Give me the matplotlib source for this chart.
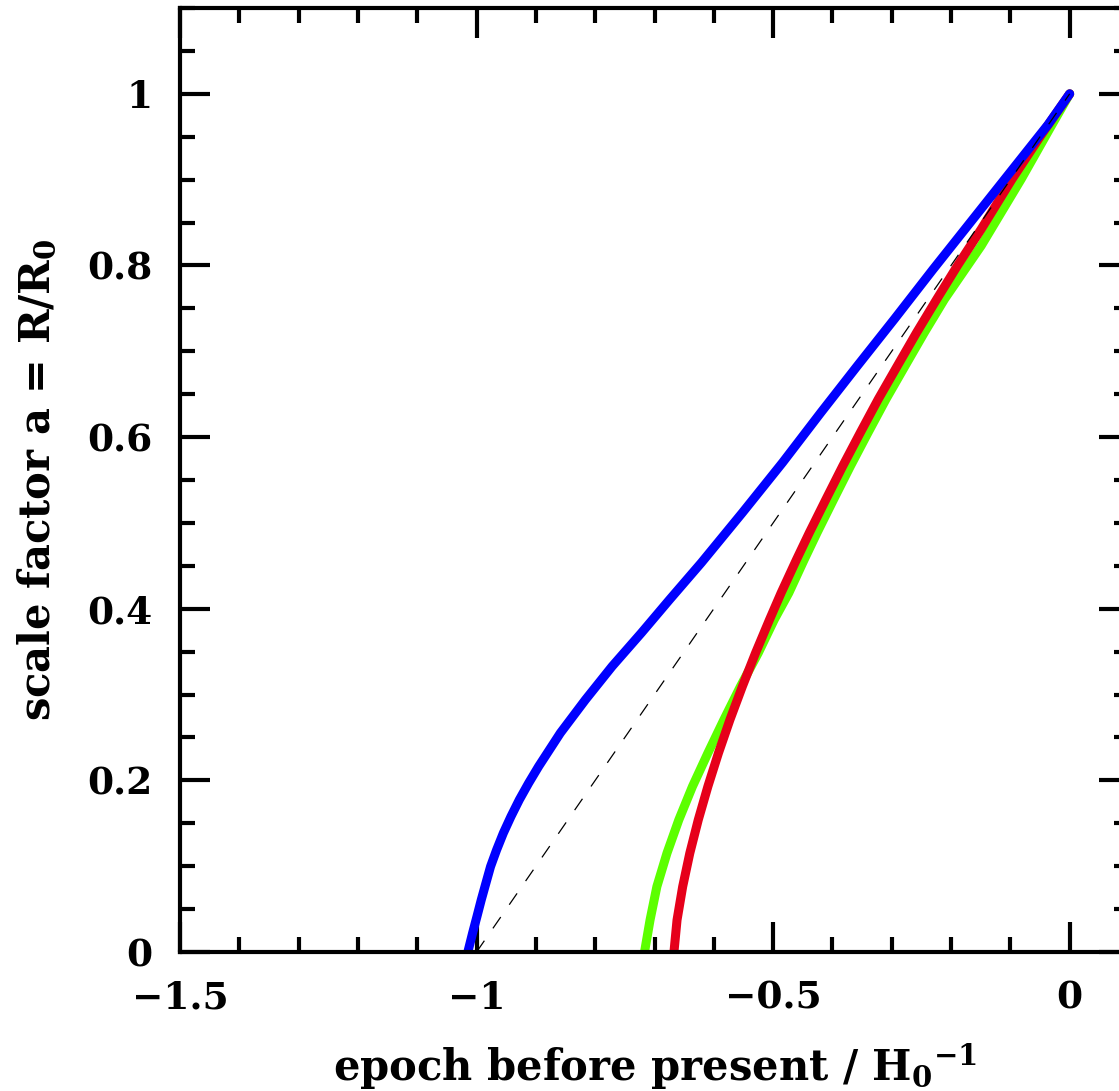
import matplotlib
matplotlib.use('Agg')
import matplotlib.pyplot as plt
from matplotlib.ticker import MultipleLocator, FixedLocator, FixedFormatter

# Values (epoch t in units of 1/H0, scale factor a)
t_blue = [-1.0147, -1.0068, -0.9994, -0.9921, -0.9843, -0.9764, -0.9662, -0.9549,
          -0.9420, -0.9279, -0.9122, -0.8953, -0.8587, -0.8164, -0.7714, -0.7220,
          -0.6745, -0.6210, -0.5518, -0.4842, -0.4195, -0.3580, -0.2950, -0.2309,
          -0.1182, -0.0366, 0.0]
a_blue = [0.0, 0.0218, 0.0412, 0.0607, 0.0801, 0.0996, 0.1190, 0.1385,
          0.1579, 0.1774, 0.1968, 0.2163, 0.2552, 0.2940, 0.3329, 0.3719,
          0.4107, 0.4536, 0.5119, 0.5702, 0.6286, 0.6830, 0.7380, 0.7950,
          0.8930, 0.9640, 1.0]

t_red = [-0.6672, -0.6620, -0.6525, -0.6405, -0.6262, -0.6100, -0.5922, -0.5728,
         -0.5518, -0.5296, -0.5060, -0.4865, -0.4605, -0.4390, -0.4110, -0.3826,
         -0.3530, -0.3228, -0.2905, -0.2580, -0.2240, -0.1890, -0.1490, -0.0970,
         -0.0490, 0.0]
a_red = [0.0, 0.0373, 0.0762, 0.1151, 0.1540, 0.1929, 0.2318, 0.2707,
         0.3096, 0.3485, 0.3874, 0.4185, 0.4574, 0.4885, 0.5274, 0.5663,
         0.6052, 0.6441, 0.6830, 0.7219, 0.7608, 0.8000, 0.8425, 0.9008,
         0.9510, 1.0]

t_green = [-0.7168, -0.7075, -0.6960, -0.6790, -0.6590, -0.6360, -0.6100, -0.5830,
           -0.5550, -0.5250, -0.4980, -0.4735, -0.4475, -0.4260, -0.3980, -0.3696,
           -0.3400, -0.3098, -0.2775, -0.2450, -0.2110, -0.1492, -0.0816, -0.0338, 0.0]
a_green = [0.0, 0.0373, 0.0762, 0.1151, 0.1540, 0.1929, 0.2318, 0.2707,
           0.3096, 0.3485, 0.3874, 0.4185, 0.4574, 0.4885, 0.5274, 0.5663,
           0.6052, 0.6441, 0.6830, 0.7219, 0.7608, 0.8230, 0.9008, 0.9592, 1.0]

# empty universe, a = 1 + t
t_empty = [-1.0, 0.0]
a_empty = [0.0, 1.0]

xticks = [-1.5, -1.0, -0.5, 0.0]
xticklabels = ['\u22121.5', '\u22121', '\u22120.5', '0']
yticks = [0.0, 0.2, 0.4, 0.6, 0.8, 1.0]
yticklabels = ['0', '0.2', '0.4', '0.6', '0.8', '1']

plt.rcParams['font.family'] = 'DejaVu Serif'
plt.rcParams['font.weight'] = 'bold'
plt.rcParams['mathtext.fontset'] = 'dejavuserif'
plt.rcParams['axes.linewidth'] = 3.0

fig = plt.figure(figsize=(11.19, 10.91), dpi=100)
# axes run past the right edge of the picture, as in the reference
ax = fig.add_axes([180/1119, 139/1091, 949/1119, 944/1091])

ax.plot(t_green, a_green, color='#5cff00', lw=6.5, solid_capstyle='round', solid_joinstyle='round')
ax.plot(t_red, a_red, color='#e6001a', lw=6.5, solid_capstyle='round', solid_joinstyle='round')
ax.plot(t_blue, a_blue, color='#0000ff', lw=6.5, solid_capstyle='round', solid_joinstyle='round')
ax.plot(t_empty, a_empty, color='black', lw=0.9, linestyle=(0, (11, 12)))

ax.set_xlim(-1.5, 0.1)
ax.set_ylim(0, 1.1)

ax.xaxis.set_major_locator(FixedLocator(xticks))
ax.xaxis.set_major_formatter(FixedFormatter(xticklabels))
ax.xaxis.set_minor_locator(MultipleLocator(0.1))
ax.yaxis.set_major_locator(FixedLocator(yticks))
ax.yaxis.set_major_formatter(FixedFormatter(yticklabels))
ax.yaxis.set_minor_locator(MultipleLocator(0.05))

ax.tick_params(which='both', direction='in', top=True, right=True, width=3.0)
ax.tick_params(which='major', length=21.5, labelsize=27)
ax.tick_params(axis='x', which='major', pad=20)
ax.tick_params(axis='y', which='major', pad=20)
ax.tick_params(which='minor', length=10.8)

ax.set_xlabel(r'epoch before present / H$_\mathbf{0}{}^{\mathbf{-1}}$', fontsize=30, fontweight='bold')
ax.set_ylabel(r'scale factor a = R/R$_\mathbf{0}$', fontsize=30, fontweight='bold')
ax.xaxis.set_label_coords(0.5, -0.094)
ax.yaxis.set_label_coords(-0.128, 0.5)

plt.savefig('out.png', dpi=100)
